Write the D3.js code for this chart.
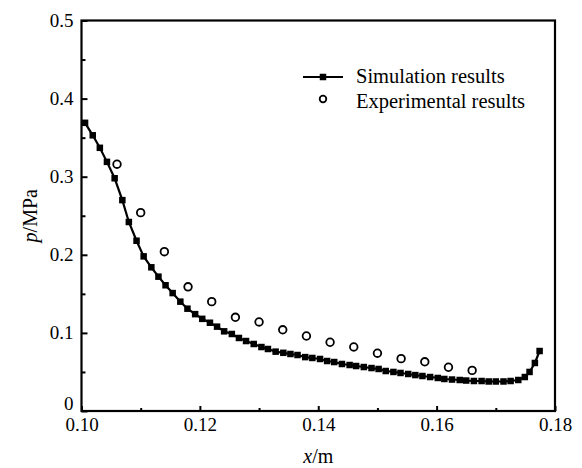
<!DOCTYPE html>
<html>
<head>
<meta charset="utf-8">
<script src="https://cdn.jsdelivr.net/npm/d3@7"></script>
<style>
	body { margin: 0; background: #fff; }
	svg text { font-family: "Liberation Serif", "Times New Roman", serif; fill: #000; }
</style>
</head>
<body>
<div id="svg-container"></div>
<script>

// DATA
const simX = [0.1006, 0.1019, 0.1031, 0.1043, 0.1056, 0.1069, 0.1080, 0.1093, 0.1105, 0.1118,
	0.1130, 0.1142, 0.1154, 0.1167, 0.1179, 0.1192, 0.1204, 0.1217, 0.1229, 0.1241,
	0.1254, 0.1266, 0.1278, 0.1291, 0.1304, 0.1315, 0.1328, 0.1341, 0.1353, 0.1365,
	0.1378, 0.1390, 0.1403, 0.1415, 0.1427, 0.1440, 0.1453, 0.1464, 0.1477, 0.1490,
	0.1502, 0.1514, 0.1527, 0.1539, 0.1552, 0.1564, 0.1576, 0.1589, 0.1602, 0.1613,
	0.1626, 0.1639, 0.1650, 0.1663, 0.1676, 0.1688, 0.1700, 0.1713, 0.1725, 0.1738,
	0.1749, 0.1757, 0.1766, 0.1774];
const simP = [0.369, 0.353, 0.337, 0.319, 0.298, 0.270, 0.242, 0.218, 0.198, 0.184,
	0.172, 0.161, 0.151, 0.140, 0.131, 0.124, 0.118, 0.113, 0.108, 0.102,
	0.0986, 0.0935, 0.0896, 0.0858, 0.0819, 0.0794, 0.0760, 0.0745, 0.0730, 0.0717,
	0.0690, 0.0679, 0.0666, 0.0640, 0.0627, 0.0602, 0.0589, 0.0576, 0.0563, 0.0550,
	0.0538, 0.0512, 0.0500, 0.0487, 0.0474, 0.0460, 0.0448, 0.0435, 0.0423, 0.0410,
	0.0403, 0.0397, 0.0390, 0.0384, 0.0384, 0.0378, 0.0378, 0.0378, 0.0384, 0.0397,
	0.0435, 0.0500, 0.0615, 0.0768];
const expX = [0.106, 0.110, 0.114, 0.118, 0.122, 0.126, 0.130, 0.134, 0.138, 0.142,
	0.146, 0.150, 0.154, 0.158, 0.162, 0.166];
const expP = [0.316, 0.254, 0.204, 0.159, 0.140, 0.120, 0.114, 0.104, 0.096, 0.088,
	0.082, 0.074, 0.067, 0.063, 0.056, 0.052];
const xTicks = [0.10, 0.12, 0.14, 0.16, 0.18];
const yTicks = [0, 0.1, 0.2, 0.3, 0.4, 0.5];
const legendNames = ["Simulation results", "Experimental results"];


// CHART
function graphData() {
	const w = 582;
	const h = 468;
	const padTop = 20.5;
	const padBottom = 57;
	const padLeft = 81.5;
	const padRight = 27;

	const sim = simX.map((x, i) => ({ x: x, p: simP[i] }));
	const exp = expX.map((x, i) => ({ x: x, p: expP[i] }));

	// scales
	const xScale = d3.scaleLinear()
		.domain([0.10, 0.18])
		.range([padLeft, w - padRight]);
	const yScale = d3.scaleLinear()
		.domain([0, 0.5])
		.range([h - padBottom, padTop]);

	const svg = d3.select("#svg-container")
		.append("svg")
		.attr("width", w)
		.attr("height", h);

	// minor ticks
	const xMinor = d3.axisBottom(xScale)
		.tickValues(d3.range(0.11, 0.18, 0.02))
		.tickSize(-3)
		.tickFormat("");
	svg.append("g")
		.attr("transform", `translate(0, ${h - padBottom})`)
		.call(xMinor);
	const yMinor = d3.axisLeft(yScale)
		.tickValues(d3.range(0.05, 0.5, 0.1))
		.tickSize(-4)
		.tickFormat("");
	svg.append("g")
		.attr("transform", `translate(${padLeft}, 0)`)
		.call(yMinor);

	// x-axis
	const xAxis = d3.axisBottom(xScale)
		.tickValues(xTicks)
		.tickSize(-5)
		.tickPadding(6)
		.tickFormat(d3.format(".2f"));
	svg.append("g")
		.attr("id", "x-axis")
		.attr("transform", `translate(0, ${h - padBottom})`)
		.call(xAxis);
	// y-axis
	const yAxis = d3.axisLeft(yScale)
		.tickValues(yTicks)
		.tickSize(-6)
		.tickPadding(8)
		.tickFormat(d => d === 0 ? "0" : d3.format(".1f")(d));
	svg.append("g")
		.attr("id", "y-axis")
		.attr("transform", `translate(${padLeft}, 0)`)
		.call(yAxis);

	svg.selectAll(".domain").remove();
	svg.selectAll(".tick line").attr("stroke", "#000").attr("stroke-width", 2);
	svg.selectAll(".tick text").style("font-size", "19px").attr("fill", "#000");
	svg.selectAll("#x-axis .tick text").attr("dy", "0.75em");
	// the "0" sits a little above the axis line
	svg.selectAll("#y-axis .tick text").filter(d => d === 0).attr("dy", "-0.08em");

	// frame
	svg.append("rect")
		.attr("x", padLeft)
		.attr("y", padTop)
		.attr("width", w - padRight - padLeft)
		.attr("height", h - padBottom - padTop)
		.attr("fill", "none")
		.attr("stroke", "#000")
		.attr("stroke-width", 2.2);

	// labels
	const xLab = svg.append("text")
		.attr("x", (padLeft + w - padRight) / 2)
		.attr("y", 463)
		.attr("text-anchor", "middle")
		.style("font-size", "20px");
	xLab.append("tspan").style("font-style", "italic").text("x");
	xLab.append("tspan").text("/m");

	const yLab = svg.append("text")
		.attr("transform", `translate(37, ${(padTop + h - padBottom) / 2}) rotate(-90)`)
		.attr("text-anchor", "middle")
		.style("font-size", "20px");
	yLab.append("tspan").style("font-style", "italic").text("p");
	yLab.append("tspan").text("/MPa");

	// simulation line
	const line = d3.line()
		.x(d => xScale(d.x))
		.y(d => yScale(d.p));
	svg.append("path")
		.datum(sim)
		.attr("d", line)
		.attr("fill", "none")
		.attr("stroke", "#000")
		.attr("stroke-width", 2.2);
	const sq = 6.5;
	svg.selectAll("rect.sim")
		.data(sim)
		.enter()
		.append("rect")
		.attr("class", "sim")
		.attr("x", d => xScale(d.x) - sq / 2)
		.attr("y", d => yScale(d.p) - sq / 2)
		.attr("width", sq)
		.attr("height", sq)
		.attr("fill", "#000");

	// experimental points
	svg.selectAll("circle.exp")
		.data(exp)
		.enter()
		.append("circle")
		.attr("class", "exp")
		.attr("cx", d => xScale(d.x))
		.attr("cy", d => yScale(d.p))
		.attr("r", 3.8)
		.attr("fill", "#fff")
		.attr("stroke", "#000")
		.attr("stroke-width", 1.8);

	// legend
	const lg = svg.append("g").attr("transform", "translate(303, 77)");
	lg.append("line")
		.attr("x1", 0).attr("x2", 40)
		.attr("y1", 0).attr("y2", 0)
		.attr("stroke", "#000")
		.attr("stroke-width", 2.2);
	lg.append("rect")
		.attr("x", 20 - sq / 2).attr("y", -sq / 2)
		.attr("width", sq).attr("height", sq)
		.attr("fill", "#000");
	lg.append("circle")
		.attr("cx", 20).attr("cy", 22)
		.attr("r", 3.3)
		.attr("fill", "#fff")
		.attr("stroke", "#000")
		.attr("stroke-width", 1.8);
	lg.selectAll("text.leg")
		.data(legendNames)
		.enter()
		.append("text")
		.attr("class", "leg")
		.attr("x", 53)
		.attr("y", (d, i) => i * 25 + 6)
		.style("font-size", "20.5px")
		.text(d => d);
}

document.addEventListener('DOMContentLoaded', () => {
	graphData();
});
</script>
</body>
</html>
